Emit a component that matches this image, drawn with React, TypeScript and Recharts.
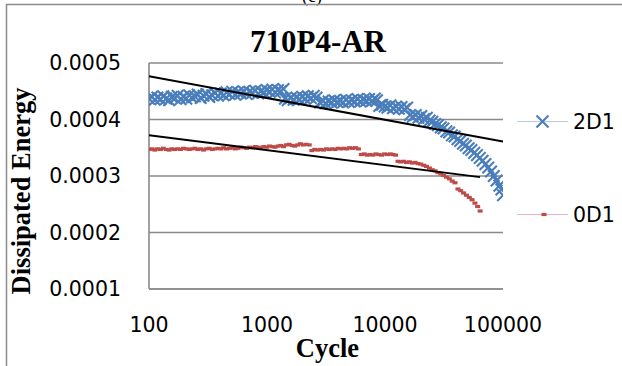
import React from 'react';
import { ScatterChart, Scatter, XAxis, YAxis, CartesianGrid } from 'recharts';

const X_TICKS = [100, 1000, 10000, 100000];
const Y_TICKS = [0.0001, 0.0002, 0.0003, 0.0004, 0.0005];

// 2D1 specimen: cycle count vs dissipated energy
const CYCLES_2D1 = [
  100, 106, 112, 118, 125, 132, 140, 148, 156, 165, 175, 185, 196, 207, 219, 231, 245, 259, 274, 290,
  306, 324, 343, 363, 384, 406, 429, 454, 480, 508, 537, 568, 601, 635, 672, 711, 752, 795, 841, 889,
  940, 995, 1050, 1110, 1170, 1240, 1310, 1380, 1420, 1500, 1590, 1680, 1780, 1880, 1990, 2100, 2220,
  2350, 2490, 2630, 2810, 2970, 3140, 3330, 3520, 3720, 3940, 4170, 4410, 4670, 4940, 5230, 5530, 5850,
  6190, 6550, 6930, 7330, 7760, 8210, 8550, 8950, 9450, 9950, 10500, 11100, 11700, 12400, 13100, 13800,
  14600, 15400, 16300, 17200, 18200, 19200, 20300, 21400, 22600, 23900, 25200, 26600, 28100, 29700,
  31300, 33100, 34900, 36900, 38900, 41100, 43400, 45800, 48400, 51100, 54000, 57000, 60200, 63600,
  67200, 71000, 75000, 79200, 83600, 88300, 93200, 97000, 100000,
];
const ENERGY_2D1 = [
  0.000437, 0.00044, 0.000435, 0.000439, 0.000436, 0.000441, 0.000437, 0.000434, 0.00044, 0.000438,
  0.000442, 0.000436, 0.00044, 0.000437, 0.000443, 0.000439, 0.000441, 0.000444, 0.000438, 0.000442,
  0.000445, 0.00044, 0.000443, 0.000447, 0.000442, 0.000446, 0.000443, 0.000448, 0.000445, 0.000449,
  0.000444, 0.000448, 0.000446, 0.00045, 0.000445, 0.000449, 0.000447, 0.000451, 0.000446, 0.00045,
  0.000448, 0.000452, 0.000449, 0.000453, 0.000448, 0.000452, 0.00045, 0.000454, 0.000437, 0.000434,
  0.000438, 0.000435, 0.000439, 0.000436, 0.00044, 0.000437, 0.000441, 0.000438, 0.000442, 0.000439,
  0.00043, 0.000433, 0.000429, 0.000432, 0.00043, 0.000434, 0.000431, 0.000433, 0.00043, 0.000435,
  0.000431, 0.000434, 0.000432, 0.000436, 0.000432, 0.000435, 0.000433, 0.000436, 0.000433, 0.000437,
  0.000434, 0.000424, 0.000426, 0.000423, 0.000421, 0.000425, 0.00042, 0.000423, 0.000419, 0.000422,
  0.000418, 0.000421, 0.000408, 0.000405, 0.000408, 0.000403, 0.000406, 0.000401, 0.000403, 0.000398,
  0.000396, 0.000392, 0.00039, 0.000386, 0.000384, 0.000379, 0.000377, 0.000372, 0.00037, 0.000365,
  0.000362, 0.000357, 0.000354, 0.000349, 0.000346, 0.000341, 0.000337, 0.000332, 0.000327, 0.000321,
  0.000315, 0.000308, 0.0003, 0.000292, 0.000283, 0.000276, 0.000266,
];

// 0D1 specimen
const CYCLES_0D1 = [
  100, 106, 112, 118, 125, 132, 140, 148, 156, 165, 175, 185, 196, 207, 219, 231, 245, 259, 274, 290,
  306, 324, 343, 363, 384, 406, 429, 454, 480, 508, 537, 568, 601, 635, 672, 711, 752, 795, 841, 889,
  940, 995, 1050, 1110, 1170, 1240, 1310, 1380, 1460, 1540, 1630, 1720, 1820, 1920, 2030, 2150, 2280,
  2400, 2540, 2690, 2850, 3010, 3190, 3370, 3570, 3780, 4000, 4230, 4480, 4740, 5020, 5310, 5620, 5950,
  6300, 6670, 7060, 7470, 7900, 8360, 8850, 9370, 9920, 10500, 11100, 11700, 12300, 12900, 13600, 14400,
  15200, 16100, 17000, 18000, 19000, 20100, 21300, 22500, 23800, 25200, 26600, 28100, 29700, 31400,
  33200, 35100, 37100, 39200, 41500, 43800, 46300, 49000, 51800, 54700, 57800, 61000, 64000,
];
const ENERGY_0D1 = [
  0.000347, 0.000348, 0.000346, 0.000348, 0.000347, 0.000349, 0.000347, 0.000346, 0.000348, 0.000347,
  0.000348, 0.000347, 0.000349, 0.000348, 0.000347, 0.000348, 0.000349, 0.000347, 0.000348, 0.000346,
  0.000348, 0.000349, 0.000347, 0.000348, 0.000349, 0.000348, 0.00035, 0.000348, 0.000349, 0.00035,
  0.000348, 0.000349, 0.000351, 0.00035, 0.000349, 0.000351, 0.00035, 0.000352, 0.000351, 0.00035,
  0.000352, 0.000351, 0.000353, 0.000352, 0.000351, 0.000353, 0.000354, 0.000352, 0.000355, 0.000356,
  0.000354, 0.000353, 0.000355, 0.000357, 0.000355, 0.000356, 0.000355, 0.000345, 0.000347, 0.000346,
  0.000347, 0.000346, 0.000348, 0.000347, 0.000348, 0.000347, 0.000349, 0.000348, 0.000349, 0.000348,
  0.00035, 0.000349, 0.00035, 0.000348, 0.000338, 0.000339, 0.000337, 0.000338, 0.000337, 0.000339,
  0.000338, 0.000337, 0.000339, 0.000338, 0.000339, 0.000338, 0.000337, 0.000326, 0.000325, 0.000326,
  0.000324, 0.000325, 0.000323, 0.000324, 0.000322, 0.000321, 0.000319, 0.000317, 0.000314, 0.000311,
  0.000309, 0.000306, 0.000304, 0.000301, 0.000298, 0.000295, 0.000291, 0.000288, 0.000277, 0.000274,
  0.00027, 0.000266, 0.000262, 0.000258, 0.000252, 0.000246, 0.000238,
];

// logarithmic trend lines (straight on the log axis)
const TREND_2D1_CYCLES = [100, 100000];
const TREND_2D1_ENERGY = [0.0004765, 0.000361];
const TREND_0D1_CYCLES = [100, 63900];
const TREND_0D1_ENERGY = [0.000372, 0.000298];

const BLUE = '#4a7ebb';
const RED = '#be4b48';
const GRID = '#8a8a8a';
const SANS = '"DejaVu Sans", sans-serif';
const SERIF = '"Liberation Serif", "Times New Roman", serif';

const zip = (xs: number[], ys: number[]) => xs.map((x, i) => ({ x, y: ys[i] }));

const data2D1 = zip(CYCLES_2D1, ENERGY_2D1);
const data0D1 = zip(CYCLES_0D1, ENERGY_0D1);
const trend2D1 = zip(TREND_2D1_CYCLES, TREND_2D1_ENERGY);
const trend0D1 = zip(TREND_0D1_CYCLES, TREND_0D1_ENERGY);

const CrossMark = ({ cx, cy, r = 5.8 }: any) => (
  <path
    d={`M${cx - r},${cy - r}L${cx + r},${cy + r}M${cx - r},${cy + r}L${cx + r},${cy - r}`}
    stroke={BLUE}
    strokeWidth={2.1}
    fill="none"
  />
);

const DashMark = ({ cx, cy }: any) => (
  <rect x={cx - 2.5} y={cy - 1.6} width={5} height={3.2} fill={RED} />
);

const NoMark = () => <g />;

const tickStyle = { fill: '#000', fontSize: 20.5, fontFamily: SANS };

const CycleTitle = (props: any) => {
  const vb = props.viewBox || { x: 149, y: 289, width: 354, height: 30 };
  return (
    <text
      x={vb.x + vb.width / 2 + 1.5}
      y={vb.y + 68}
      textAnchor="middle"
      fontFamily={SERIF}
      fontWeight="bold"
      fontSize={26.5}
      fill="#000"
    >
      Cycle
    </text>
  );
};

const EnergyTitle = (props: any) => {
  const vb = props.viewBox || { x: 0, y: 63, width: 149, height: 226 };
  const cx = 30;
  const cy = vb.y + vb.height / 2 + 15;
  return (
    <text
      x={cx}
      y={cy}
      transform={`rotate(-90, ${cx}, ${cy})`}
      textAnchor="middle"
      fontFamily={SERIF}
      fontWeight="bold"
      fontSize={26.5}
      fill="#000"
    >
      Dissipated Energy
    </text>
  );
};

export default function App() {
  return (
    <div style={{ position: 'absolute', left: 0, top: 0, width: 622, height: 366, background: '#fff', overflow: 'hidden' }}>
      <ScatterChart width={622} height={366} margin={{ top: 63, right: 119, bottom: 47, left: 0 }}>
        <CartesianGrid vertical={false} stroke={GRID} strokeWidth={1.6} />
        <XAxis
          type="number"
          dataKey="x"
          scale="log"
          domain={[100, 100000]}
          ticks={X_TICKS}
          allowDataOverflow
          height={30}
          tickLine={false}
          tickSize={0}
          tickMargin={28}
          axisLine={{ stroke: GRID, strokeWidth: 1.6 }}
          tick={tickStyle}
          label={(p: any) => <CycleTitle {...p} />}
        />
        <YAxis
          type="number"
          dataKey="y"
          domain={[0.0001, 0.0005]}
          ticks={Y_TICKS}
          allowDataOverflow
          width={149}
          tickLine={false}
          tickSize={0}
          tickMargin={28}
          axisLine={{ stroke: GRID, strokeWidth: 1.6 }}
          tick={tickStyle}
          tickFormatter={(v: number) => v.toFixed(4)}
          label={(p: any) => <EnergyTitle {...p} />}
        />
        <Scatter name="2D1" data={data2D1} shape={(p: any) => <CrossMark cx={p.cx} cy={p.cy} />} isAnimationActive={false} />
        <Scatter name="0D1" data={data0D1} shape={(p: any) => <DashMark cx={p.cx} cy={p.cy} />} isAnimationActive={false} />
        <Scatter data={trend2D1} fill="#000" line={{ stroke: '#000', strokeWidth: 2 }} shape={NoMark} isAnimationActive={false} />
        <Scatter data={trend0D1} fill="#000" line={{ stroke: '#000', strokeWidth: 2 }} shape={NoMark} isAnimationActive={false} />
      </ScatterChart>

      <svg width={622} height={366} style={{ position: 'absolute', left: 0, top: 0, pointerEvents: 'none' }}>
        <text x={312} y={2} textAnchor="middle" fontFamily={SERIF} fontSize={18} fill="#000">(c)</text>
        <line x1={6.5} y1={4} x2={6.5} y2={366} stroke={GRID} strokeWidth={1.5} />
        <line x1={6} y1={4.5} x2={622} y2={4.5} stroke={GRID} strokeWidth={1.5} />
        <text x={318} y={52} textAnchor="middle" fontFamily={SERIF} fontWeight="bold" fontSize={31} fill="#000">
          710P4-AR
        </text>

        <line x1={517} y1={121.5} x2={568} y2={121.5} stroke="#b9cde5" strokeWidth={1} />
        <CrossMark cx={542.5} cy={121.5} r={6} />
        <text x={573} y={129} fontFamily={SANS} fontSize={20.5} fill="#000">2D1</text>

        <line x1={517} y1={214.5} x2={568} y2={214.5} stroke="#e6b9b8" strokeWidth={1} />
        <DashMark cx={544} cy={214.5} />
        <text x={573} y={222} fontFamily={SANS} fontSize={20.5} fill="#000">0D1</text>
      </svg>
    </div>
  );
}
